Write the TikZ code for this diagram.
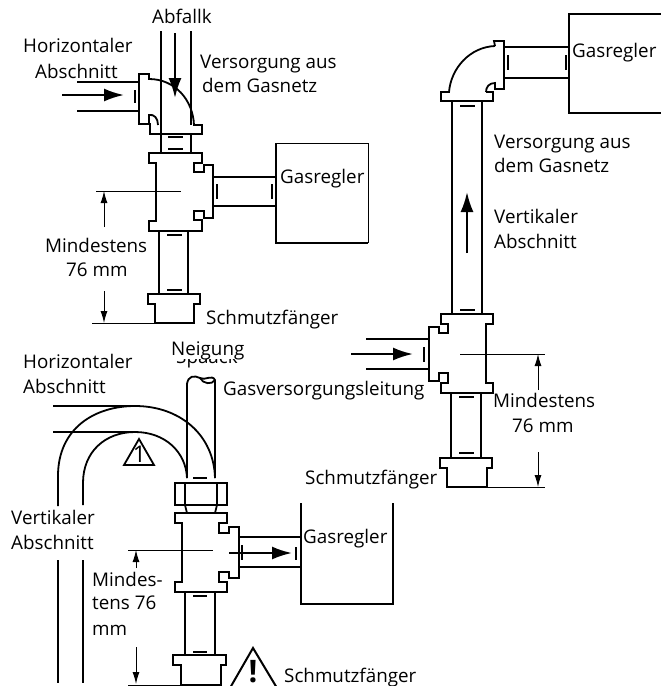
\documentclass[tikz,border=0pt]{standalone}
\usepackage{fontspec}
\setmainfont{Open Sans}
\usetikzlibrary{arrows.meta}
\tikzset{
    pipe/.style={line width=1.8pt},
    wall/.style={line width=2.4pt},
    thinwall/.style={line width=0.9pt},
    tick/.style={line width=1.4pt},
    dimline/.style={line width=0.9pt},
    dimarrow/.style={line width=1pt, -{Latex[length=12pt, width=7pt]}},
    flowarrow/.style={line width=2.2pt, -{Latex[length=20pt, width=13pt]}},
    txt/.style={anchor=base west, inner sep=0pt, font=\fontsize{18.8}{20}\selectfont},
}
\begin{document}
\begin{tikzpicture}[x=1pt, y=-1pt]
    \useasboundingbox (0, 0) rectangle (661, 686);

    % Top left: supply pipe
    \draw[wall] (161, 31) -- (161, 153);
    \draw[wall] (191, 31) -- (191, 125);
    \draw[wall] (191, 134) -- (191, 153);
    \draw[flowarrow] (175, 33) -- (175, 98);
    \draw[tick] (168, 137) -- (183, 137);
    \draw[tick] (168, 149) -- (183, 149);

    % Top left: horizontal inlet and elbow
    \draw[pipe] (77, 82) -- (139, 82);
    \draw[pipe] (77, 111) -- (139, 111);
    \draw[flowarrow] (62, 95) -- (124, 95);
    \draw[tick] (135, 90) -- (135, 103);
    \draw[pipe] (150, 124) -- (139, 124) -- (139, 74) -- (149, 74) -- (149, 79)
        .. controls (175, 79) and (193, 100) .. (194, 125) -- (202, 125) -- (202, 134) -- (150, 134) -- cycle;
    \draw[pipe] (149, 124) -- (149, 115) .. controls (154, 114) and (158, 118) .. (158, 125);

    % Top left: tee
    \draw[pipe] (149, 153) -- (202, 153) -- (202, 163) -- (194, 163) -- (194, 172) -- (204, 172) -- (204, 165)
        -- (213, 165) -- (213, 218) -- (204, 218) -- (204, 211) -- (194, 211) -- (194, 220) -- (202, 220)
        -- (202, 231) -- (149, 231) -- (149, 221) -- (156, 221) -- (156, 163) -- (149, 163) -- cycle;

    % Top left: branch and regulator
    \draw[pipe] (213, 177) -- (276, 177);
    \draw[pipe] (213, 206) -- (276, 206);
    \draw[tick] (217, 184) -- (217, 199);
    \draw[tick] (272, 184) -- (272, 199);
    \draw[wall] (276, 143) -- (276, 243) -- (368, 243);
    \draw[thinwall] (276, 143) -- (368, 143) -- (368, 243);

    % Top left: leg and dirt trap
    \draw[pipe] (159, 231) -- (159, 294);
    \draw[pipe] (188, 231) -- (188, 294);
    \draw[tick] (167, 235) -- (182, 235);
    \draw[tick] (167, 290) -- (182, 290);
    \draw[pipe] (148, 294) -- (200, 294) -- (200, 304) -- (194, 304) -- (194, 323) -- (155, 323) -- (155, 304) -- (148, 304) -- cycle;

    % Top left: minimum length
    \draw[dimline] (96, 191) -- (181, 191);
    \draw[dimline] (92, 323) -- (155, 323);
    \draw[dimarrow] (104, 227) -- (104, 191);
    \draw[dimarrow] (104, 291) -- (104, 323);

    % Top left: labels
    \node[txt] (wasteA) at (152, 23) {Abfallk};
    \node[txt] (horizA) at (23, 52) {Horizontaler};
    \node[txt] (horizB) at (35, 78) {Abschnitt};
    \node[txt] (supplyA) at (200, 68) {Versorgung aus};
    \node[txt] (supplyB) at (202, 92) {dem Gasnetz};
    \node[txt] (regA) at (280, 183) {Gasregler};
    \node[txt] (minA) at (45, 252) {Mindestens};
    \node[txt] (minB) at (66, 276) {76 mm};
    \node[txt] (trapA) at (206, 324) {Schmutzfänger};

    % Right: regulator and elbow
    \draw[wall] (661, 14) -- (569, 14) -- (569, 113) -- (661, 113);
    \draw[pipe] (504, 47) -- (569, 47);
    \draw[pipe] (504, 78) -- (569, 78);
    \draw[tick] (508, 55) -- (508, 70);
    \draw[tick] (566, 55) -- (566, 70);
    \draw[pipe] (495, 46) -- (494, 41) -- (504, 41) -- (504, 89) -- (495, 89) -- (495, 83)
        .. controls (489, 83) and (486, 87) .. (486, 92);
    \draw[pipe] (495, 46) .. controls (470, 47) and (451, 68) .. (449, 92) -- (441, 92) -- (441, 101) -- (493, 101) -- (493, 92) -- (486, 92);

    % Right: riser
    \draw[pipe] (452, 101) -- (452, 314);
    \draw[pipe] (482, 101) -- (482, 314);
    \draw[tick] (460, 106) -- (475, 106);
    \draw[tick] (460, 310) -- (475, 310);
    \draw[flowarrow] (467, 253) -- (467, 192);

    % Right: tee
    \draw[pipe] (441, 314) -- (493, 314) -- (493, 324) -- (486, 324) -- (486, 383) -- (493, 383) -- (493, 393)
        -- (441, 393) -- (441, 383) -- (448, 383) -- (448, 373) -- (439, 373) -- (439, 381) -- (429, 381)
        -- (429, 327) -- (439, 327) -- (439, 333) -- (448, 333) -- (448, 324) -- (441, 324) -- cycle;
    \draw[pipe] (366, 339) -- (429, 339);
    \draw[pipe] (366, 369) -- (429, 369);
    \draw[flowarrow] (351, 354) -- (413, 354);
    \draw[tick] (424, 347) -- (424, 362);

    % Right: leg and dirt trap
    \draw[pipe] (451, 393) -- (451, 458);
    \draw[pipe] (481, 393) -- (481, 458);
    \draw[tick] (459, 397) -- (474, 397);
    \draw[tick] (459, 453) -- (474, 453);
    \draw[pipe] (440, 458) -- (492, 458) -- (492, 468) -- (487, 468) -- (487, 487) -- (447, 487) -- (447, 468) -- (440, 468) -- cycle;

    % Right: minimum length
    \draw[dimline] (460, 354) -- (545, 354);
    \draw[dimline] (487, 487) -- (545, 487);
    \draw[dimarrow] (538, 390) -- (538, 354);
    \draw[dimarrow] (538, 452) -- (538, 487);

    % Right: labels
    \node[txt] (regB) at (572, 57) {Gasregler};
    \node[txt] (supplyC) at (494, 148) {Versorgung aus};
    \node[txt] (supplyD) at (494, 172) {dem Gasnetz};
    \node[txt] (vertA) at (494, 223) {Vertikaler};
    \node[txt] (vertB) at (494, 248) {Abschnitt};
    \node[txt] (lineA) at (223, 395) {Gasversorgungsleitung};
    \node[txt] (minC) at (493, 407) {Mindestens};
    \node[txt] (minD) at (512, 432) {76 mm};
    \node[txt] (trapB) at (305, 484) {Schmutzfänger};

    % Bottom left: drop pipe with cut end
    \draw[pipe] (187, 478) -- (187, 384) .. controls (188, 376) and (194, 375) .. (200, 378)
        .. controls (205, 381) and (212, 374) .. (215, 380) -- (215, 478);
    \draw[pipe] (200, 378) .. controls (203, 384) and (212, 385) .. (215, 380);
    \draw[tick] (193, 478) -- (207, 478);

    % Bottom left: trap loop
    \draw[pipe] (53, 406) -- (135, 406);
    \draw[pipe] (53, 432) -- (135, 432);
    \draw[pipe] (58, 506) -- (58, 476) .. controls (58, 428) and (95, 406) .. (135, 406)
        .. controls (180, 406) and (214, 435) .. (215, 478);
    \draw[pipe] (83, 505) -- (83, 483) .. controls (83, 452) and (105, 432) .. (135, 432)
        .. controls (165, 432) and (186, 452) .. (187, 478);
    \draw[pipe] (58, 560) -- (58, 683);
    \draw[pipe] (83, 560) -- (83, 683);
    \draw[pipe] (124, 465) -- (139, 439) -- (154, 465) -- cycle;
    \node[font=\fontsize{23}{23}\selectfont, inner sep=0pt] (signA) at (139.5, 454) {1};

    % Bottom left: union
    \draw[pipe] (175, 483) rectangle (227, 505);
    \draw[pipe] (185, 483) -- (185, 505);
    \draw[pipe] (217, 483) -- (217, 505);
    \draw[pipe] (185, 505) -- (187, 513);
    \draw[pipe] (217, 505) -- (215, 513);

    % Bottom left: tee
    \draw[pipe] (175, 513) -- (227, 513) -- (227, 523) -- (219, 523) -- (219, 533) -- (229, 533) -- (229, 527)
        -- (239, 527) -- (239, 578) -- (229, 578) -- (229, 572) -- (219, 572) -- (219, 582) -- (227, 582)
        -- (227, 592) -- (175, 592) -- (175, 582) -- (182, 582) -- (182, 523) -- (175, 523) -- cycle;

    % Bottom left: branch and regulator
    \draw[pipe] (239, 537) -- (301, 537);
    \draw[pipe] (239, 567) -- (301, 567);
    \draw[flowarrow] (229, 553) -- (292, 553);
    \draw[tick] (242, 545) -- (242, 560);
    \draw[tick] (296, 547) -- (296, 560);
    \draw[wall] (301, 503) -- (301, 604) -- (393, 604) -- (393, 503);

    % Bottom left: leg and dirt trap
    \draw[pipe] (185, 592) -- (185, 655);
    \draw[pipe] (215, 592) -- (215, 655);
    \draw[tick] (193, 596) -- (207, 596);
    \draw[tick] (193, 652) -- (207, 652);
    \draw[pipe] (173, 655) -- (226, 655) -- (226, 665) -- (221, 665) -- (221, 685) -- (181, 685) -- (181, 665) -- (173, 665) -- cycle;

    % Bottom left: minimum length
    \draw[dimline] (128, 550) -- (213, 550);
    \draw[dimline] (128, 685) -- (181, 685);
    \draw[dimarrow] (136, 568) -- (136, 550);
    \draw[dimarrow] (136, 647) -- (136, 684);

    % Warning sign
    \draw[line width=2pt] (230, 688) -- (253, 648) -- (277, 688);
    \node[font=\bfseries\fontsize{31}{31}\selectfont, inner sep=0pt, anchor=base] (signB) at (253, 682) {!};

    % Bottom left: labels
    \node[txt] (oldA) at (176, 363) {Spaack};
    \fill[white] (165, 338) rectangle (255, 359);
    \node[txt] (slopeA) at (171, 355) {Neigung};
    \node[txt] (horizC) at (23, 368) {Horizontaler};
    \node[txt] (horizD) at (23, 393) {Abschnitt};
    \node[txt] (vertC) at (11, 524) {Vertikaler};
    \node[txt] (vertD) at (11, 549) {Abschnitt};
    \node[txt] (regC) at (303, 543) {Gasregler};
    \node[txt] (minE) at (92, 586) {Mindes-};
    \node[txt] (minF) at (92, 609) {tens 76};
    \node[txt] (minG) at (92, 635) {mm};
    \node[txt] (trapC) at (284, 682) {Schmutzfänger};
\end{tikzpicture}
\end{document}
